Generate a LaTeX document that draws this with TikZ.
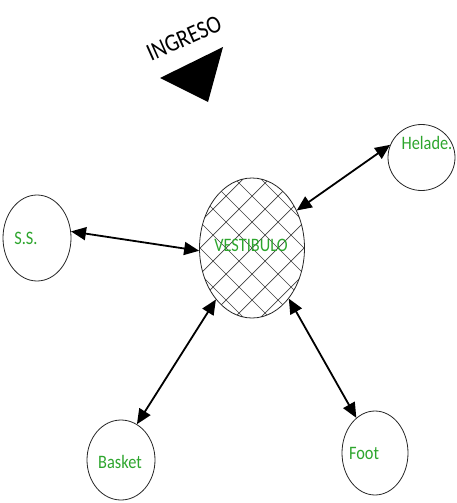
\documentclass[tikz,border=0pt]{standalone}
\usepackage{fontspec}
\setmainfont{Carlito}
\usetikzlibrary{shapes.geometric,arrows.meta}
\definecolor{lblgreen}{RGB}{45,165,45}
\newcommand{\narrowtxt}[1]{\scalebox{0.86}[1]{#1}}
\begin{document}
\begin{tikzpicture}[x=1pt,y=-1pt,
 place/.style={draw=black!85,line width=0.8pt,ellipse,inner sep=0pt},
 lbl/.style={text=lblgreen,font=\fontsize{19}{21}\selectfont,inner sep=0pt},
 hatch/.style={draw=black!75,line width=0.7pt},
 link/.style={line width=1.8pt,{Triangle[length=15pt,width=13pt]}-{Triangle[length=15pt,width=13pt]}}]
\useasboundingbox (0,0) rectangle (457,503);
% entrance
\node[rotate=24,font=\fontsize{25}{27}\selectfont,inner sep=0pt] (ing) at (184,38) {\narrowtxt{INGRESO}};
\fill (160,78) -- (223,47) -- (208,102) -- cycle;
% hatching of the hall
\begin{scope}
\clip (252,248) ellipse [x radius=52.5, y radius=70];
\foreach \k in {-8,...,8} {
  \draw[hatch] (252+\k*26-90,158) -- (252+\k*26+90,338);
  \draw[hatch] (252+\k*26+90,158) -- (252+\k*26-90,338);
}
\end{scope}
\node[place,minimum width=105pt,minimum height=140pt] (vest) at (252,248) {};
\node[place,minimum width=68pt,minimum height=86pt] (ss) at (37,238) {};
\node[place,minimum width=67pt,minimum height=66pt] (hel) at (421.5,157.5) {};
\node[place,minimum width=68pt,minimum height=80pt] (bas) at (121,460) {};
\node[place,minimum width=66pt,minimum height=84pt] (foot) at (375,453) {};
% labels
\node[lbl] (tv) at (251,245) {\narrowtxt{VESTIBULO}};
\node[lbl] (tss) at (26,238) {\narrowtxt{S.S.}};
\node[lbl] (thel) at (427,143) {\narrowtxt{Helade.}};
\node[lbl] (tbas) at (120,462) {\narrowtxt{Basket}};
\node[lbl] (tfoot) at (364,453) {\narrowtxt{Foot}};
% connectors
\draw[link] (ss.11) -- (vest.183);
\draw[link] (hel.158) -- (vest.40);
\draw[link] (bas.66) -- (vest.235);
\draw[link] (foot.118) -- (vest.306);
\end{tikzpicture}
\end{document}
